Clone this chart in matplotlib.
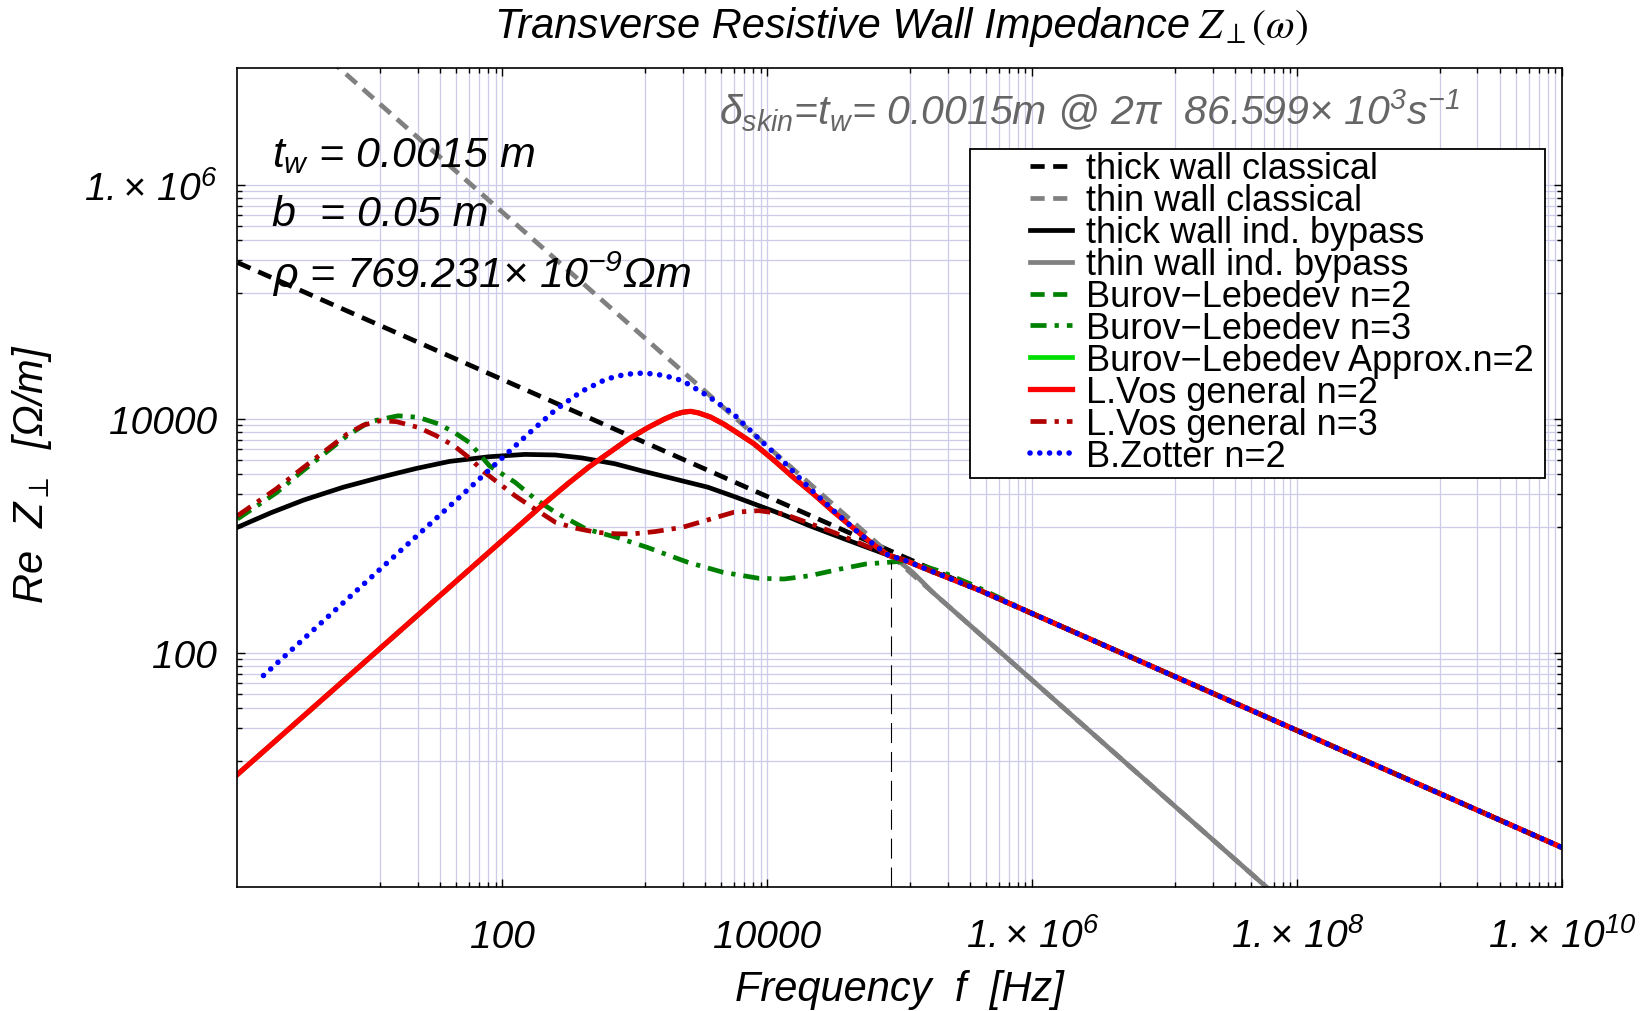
import matplotlib
matplotlib.use("Agg")
import matplotlib.pyplot as plt
import numpy as np
from matplotlib.patches import Rectangle

plt.rcParams['font.family'] = ['Liberation Sans', 'DejaVu Sans']
plt.rcParams['mathtext.fontset'] = 'custom'
plt.rcParams['mathtext.rm'] = 'Liberation Sans:italic'
plt.rcParams['mathtext.it'] = 'Liberation Sans:italic'
plt.rcParams['mathtext.bf'] = 'Liberation Sans:bold'

# curves, stored as powers of ten (log10 f, log10 Re Z)
thick_classical_logf = [0.0, 10.0]
thick_classical_logz = [5.34, 0.34]

thin_classical_logf = [0.0, 7.77]
thin_classical_logz = [7.77, 0.0]

thick_bypass_logf = [0, 0.25, 0.5, 0.8, 1.078, 1.35, 1.6, 1.9, 2.17, 2.4, 2.6, 2.85, 3.05,
                     3.3, 3.55, 3.75, 3.94, 4.13, 4.32, 4.6, 4.91, 5.05, 5.2, 5.4, 5.6, 6.0, 10]
thick_bypass_logz = [3.077, 3.20, 3.31, 3.42, 3.504, 3.58, 3.64, 3.68, 3.70, 3.695, 3.67, 3.62, 3.56,
                     3.49, 3.42, 3.34, 3.26, 3.18, 3.09, 2.97, 2.84, 2.79, 2.72, 2.63, 2.54, 2.34, 0.34]

thin_bypass_logf = [4.90, 5.0, 5.1, 5.25, 5.5, 7.77]
thin_bypass_logz = [2.85, 2.78, 2.69, 2.52, 2.27, 0.0]

vos2_logf = [0, 1, 2, 2.3, 2.5, 2.65, 2.8, 2.95, 3.1, 3.22, 3.3, 3.36, 3.42, 3.48, 3.57, 3.67,
             3.78, 3.9, 4.05, 4.2, 4.35, 4.5, 4.65, 4.8, 4.91, 5.05, 5.2, 5.4, 5.6, 6.0, 10]
vos2_logz = [0.965, 1.965, 2.965, 3.265, 3.455, 3.59, 3.71, 3.83, 3.93, 4.00, 4.04, 4.06, 4.068,
             4.055, 4.02, 3.96, 3.88, 3.79, 3.65, 3.50, 3.36, 3.21, 3.07, 2.93, 2.84, 2.79, 2.72,
             2.63, 2.54, 2.34, 0.34]

vos3_logf = [0, 0.291, 0.483, 0.65, 0.828, 0.95, 1.078, 1.2, 1.366, 1.5, 1.634, 1.75, 1.865, 2.0,
             2.095, 2.25, 2.40, 2.55, 2.708, 2.85, 2.977, 3.15, 3.36, 3.55, 3.745, 3.936, 4.128,
             4.32, 4.51, 4.7, 4.91, 5.05, 5.2, 5.4, 5.6, 6.0, 10]
vos3_logz = [3.176, 3.404, 3.575, 3.72, 3.874, 3.95, 3.988, 3.98, 3.93, 3.86, 3.774, 3.67, 3.547, 3.43,
             3.347, 3.23, 3.12, 3.07, 3.034, 3.022, 3.02, 3.04, 3.077, 3.14, 3.205, 3.219, 3.19,
             3.11, 3.03, 2.94, 2.84, 2.79, 2.72, 2.63, 2.54, 2.34, 0.34]

bl3_logf = [0, 0.291, 0.483, 0.65, 0.828, 1.0, 1.212, 1.366, 1.519, 1.634, 1.749, 1.902, 2.095,
            2.248, 2.40, 2.632, 2.862, 3.092, 3.25, 3.40, 3.667, 3.936, 4.128, 4.32, 4.55, 4.742,
            4.915, 5.05, 5.31, 5.56, 6.0, 10]
bl3_logz = [3.148, 3.37, 3.55, 3.70, 3.86, 3.98, 4.03, 4.017, 3.96, 3.89, 3.803, 3.603, 3.462,
            3.319, 3.205, 3.062, 2.991, 2.906, 2.84, 2.778, 2.692, 2.641, 2.635, 2.663, 2.72, 2.763,
            2.778, 2.79, 2.70, 2.58, 2.34, 0.34]

zotter_logf = [0.196, 1.0, 1.711, 2.018, 2.2, 2.4, 2.6, 2.785, 2.93, 3.073, 3.22, 3.36, 3.55,
               3.745, 3.94, 4.13, 4.32, 4.51, 4.7, 4.91, 5.05, 5.2, 5.4, 5.6, 6.0, 10]
zotter_logz = [1.81, 2.64, 3.37, 3.69, 3.88, 4.08, 4.24, 4.344, 4.385, 4.396, 4.375, 4.33, 4.20,
               4.045, 3.83, 3.63, 3.41, 3.21, 3.02, 2.84, 2.79, 2.72, 2.63, 2.54, 2.34, 0.34]

# skin depth equals wall thickness here
f_skin = 86.599e3
z_skin_top = 600

x_major = [1e2, 1e4, 1e6, 1e8, 1e10]
x_major_labels = ['100', '10000', r'$1.{\times}\ 10^{6}$', r'$1.{\times}\ 10^{8}$',
                  r'$1.{\times}\ 10^{10}$']
y_major = [1e2, 1e4, 1e6]
y_major_labels = ['100', '10000', r'$1.{\times}\ 10^{6}$']

legend_labels = ['thick wall classical', 'thin wall classical', 'thick wall ind. bypass',
                 'thin wall ind. bypass', 'Burov\u2212Lebedev n=2', 'Burov\u2212Lebedev n=3',
                 'Burov\u2212Lebedev Approx.n=2', 'L.Vos general n=2', 'L.Vos general n=3',
                 'B.Zotter n=2']


def p10(a):
    return 10.0 ** np.asarray(a)


fig = plt.figure(figsize=(16.51, 10.12), dpi=100)
ax = fig.add_axes([0.14385, 0.12223, 0.80224, 0.80929])
ax.set_xscale('log')
ax.set_yscale('log')
ax.set_xlim(1, 1e10)
ax.set_ylim(1, 1e7)

lw = 3.4
dash = (3.0, 1.8)
dashdot = (3.4, 1.7, 0.9, 1.7)
lines = []
lines += ax.plot(p10(thick_classical_logf), p10(thick_classical_logz), color='k', lw=lw, dashes=dash)
lines += ax.plot(p10(thin_classical_logf), p10(thin_classical_logz), color='#808080', lw=lw, dashes=dash)
lines += ax.plot(p10(thick_bypass_logf), p10(thick_bypass_logz), color='k', lw=lw)
lines += ax.plot(p10(thin_bypass_logf), p10(thin_bypass_logz), color='#808080', lw=lw)
lines += ax.plot(p10(vos2_logf), p10(vos2_logz), color='#008000', lw=lw, dashes=dash)
lines += ax.plot(p10(bl3_logf), p10(bl3_logz), color='#008000', lw=lw, dashes=dashdot)
lines += ax.plot(p10(vos2_logf), p10(vos2_logz), color='#00dd00', lw=lw)
lines += ax.plot(p10(vos2_logf), p10(vos2_logz), color='#ff0000', lw=lw + 0.4)
lines += ax.plot(p10(vos3_logf), p10(vos3_logz), color='#b00000', lw=lw, dashes=dashdot)
lines += ax.plot(p10(zotter_logf), p10(zotter_logz), color='#0000ff', lw=4.0,
                 dashes=(0.01, 1.75), dash_capstyle='round')

ax.plot([f_skin, f_skin], [1, z_skin_top], color='k', lw=0.8, dashes=(18, 8))

# mathematica-style ticks: each two-decade span split linearly in nine
x_minor = []
for lo in [1, 1e2, 1e4, 1e6, 1e8]:
    x_minor += [lo + k * (lo * 100 - lo) / 9 for k in range(1, 9)]
y_minor = []
for lo in [1, 1e2, 1e4]:
    y_minor += [lo + k * (lo * 100 - lo) / 9 for k in range(1, 9)]

ax.set_xticks(x_major, x_major_labels)
ax.set_xticks(x_minor, minor=True)
ax.set_yticks(y_major, y_major_labels)
ax.set_yticks(y_minor, minor=True)
ax.xaxis.set_minor_formatter(plt.NullFormatter())
ax.yaxis.set_minor_formatter(plt.NullFormatter())

ax.grid(which='both', color='#ccccea', lw=0.9)
ax.set_axisbelow(True)
ax.tick_params(which='both', direction='in', top=True, right=True, width=1.0, color='k')
ax.tick_params(which='major', length=6)
ax.tick_params(which='minor', length=3.5)
ax.tick_params(axis='x', labelsize=28, pad=43)
ax.tick_params(axis='y', labelsize=28, pad=15)
for lab in ax.get_xticklabels():
    lab.set_fontstyle('italic')
    lab.set_verticalalignment('baseline')
for lab in ax.get_yticklabels():
    lab.set_fontstyle('italic')
for s in ax.spines.values():
    s.set_linewidth(1.2)

# legend with a wider left margin, as in the original
ax.add_patch(Rectangle((0.553, 0.500), 0.434, 0.402, transform=ax.transAxes,
                       facecolor='white', edgecolor='k', lw=1.3, zorder=4))
leg = ax.legend(lines, legend_labels, loc='upper left', bbox_to_anchor=(0.598, 0.8985),
                frameon=False, fontsize=26, borderpad=0, handlelength=1.17,
                handletextpad=0.38, labelspacing=-0.085, borderaxespad=0)
leg.set_zorder(5)

ax.text(0.026, 0.894, r'$t_w$ = 0.0015 m', transform=ax.transAxes, fontsize=31,
        fontstyle='italic', va='center', ha='left')
ax.text(0.026, 0.822, 'b  = 0.05 m', transform=ax.transAxes, fontsize=31,
        fontstyle='italic', va='center', ha='left')
ax.text(0.026, 0.750, '\u03c1 = 769.231\u00d7 10$^{-9}$\u03a9m', transform=ax.transAxes,
        fontsize=31, fontstyle='italic', va='center', ha='left')
ax.text(0.3635, 0.9496,
        '$\\delta_{skin}$=$t_w$= 0.0015m @ 2\u03c0  86.599\u00d7 10$^{3}$s$^{-1}$',
        transform=ax.transAxes, fontsize=29.5, fontstyle='italic', color='#666666',
        va='center', ha='left')

fig.text(1190 / 1651, 0.973, 'Transverse Resistive Wall Impedance', fontsize=30,
         fontstyle='italic', ha='right', va='center')
fig.text(1198 / 1651, 0.973, r'$Z_{\perp}(\omega)$', fontsize=30, math_fontfamily='stix',
         ha='left', va='center')
fig.text(0.545, 0.0217, 'Frequency  f  [Hz]', fontsize=30, fontstyle='italic',
         ha='center', va='center')
fig.text(0.0194, 0.5316, 'Re  $Z_{\\perp}$  [\u03a9/m]', fontsize=30, fontstyle='italic',
         rotation=90, ha='center', va='center')

fig.savefig('out.png', dpi=100)
